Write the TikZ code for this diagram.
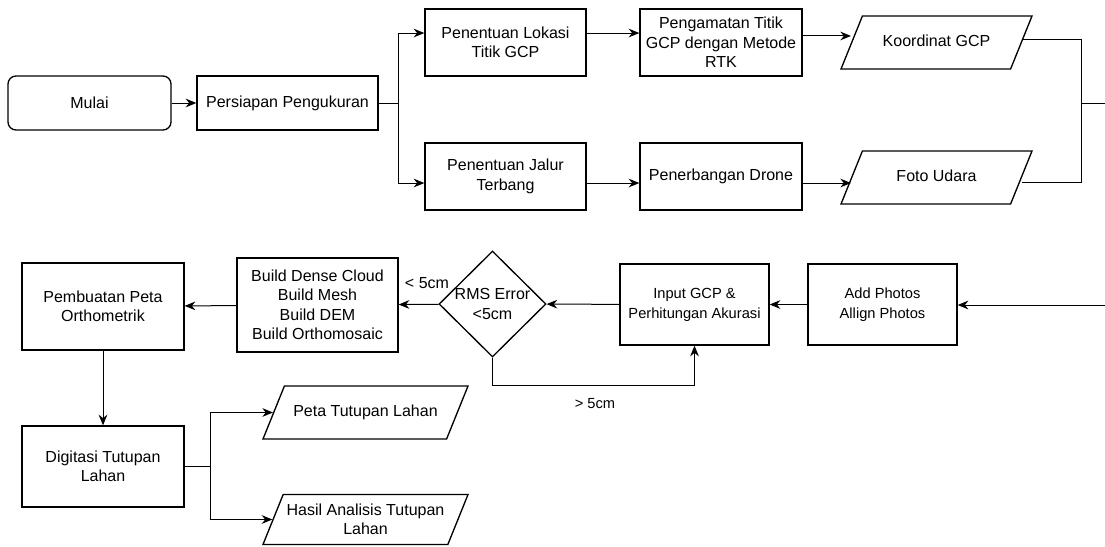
\documentclass[tikz,border=0pt]{standalone}
\usepackage{fontspec}
\setmainfont{Liberation Sans}
\usetikzlibrary{shapes.geometric,arrows.meta}

\begin{document}
\begin{tikzpicture}[x=0.75pt,y=-0.75pt]
    \tikzstyle{every node}+=[inner sep=0pt, font=\fontsize{12}{14.6}\selectfont, align=center]
    \tikzstyle{proses}=[draw, line width=1pt]
    \tikzstyle{datadasar}=[draw, line width=1pt, trapezium, trapezium left angle=68, trapezium right angle=112, trapezium stretches body=true, inner xsep=0pt, minimum width=143.25pt]
    \tikzstyle{data}=[datadasar, inner ysep=14.375pt, text height=8.6pt, text depth=2.4pt]
    \tikzstyle{panah}=[line width=0.75pt, -{Stealth[length=8pt,width=6.5pt]}]
    \tikzstyle{garis}=[line width=0.75pt]
    \useasboundingbox (0,0) rectangle (1105,546);
    % baris atas
    \node [proses, rounded corners=6pt, minimum width=122.25pt, minimum height=40.5pt] (mulai) at (89.5,103) {Mulai};
    \node [proses, minimum width=135.75pt, minimum height=40.5pt] (persiapan) at (287.5,103) {Persiapan Pengukuran};
    \node [proses, minimum width=120.75pt, minimum height=50.25pt] (lokasi) at (505.5,42.5) {Penentuan Lokasi\\Titik GCP};
    \node [proses, minimum width=121.5pt, minimum height=50.25pt] (pengamatan) at (721,42.5) {Pengamatan Titik\\GCP dengan Metode\\RTK};
    \node [proses, minimum width=120.75pt, minimum height=50.25pt] (jalur) at (505.5,176.5) {Penentuan Jalur\\Terbang};
    \node [proses, minimum width=121.5pt, minimum height=50.25pt] (drone) at (721,176.5) {Penerbangan Drone};
    \node [data] (koordinat) at (936.5,42.5) {Koordinat GCP};
    \node [data] (foto) at (936.5,177.5) {Foto Udara};
    % baris tengah
    \node [proses, minimum width=111.75pt, minimum height=60.75pt, font=\fontsize{11}{15}\selectfont] (addphotos) at (882.5,304.5) {Add Photos\\Allign Photos};
    \node [proses, minimum width=111.75pt, minimum height=60.75pt, font=\fontsize{11}{15}\selectfont] (inputgcp) at (694.5,304.5) {Input GCP \&\\Perhitungan Akurasi};
    \node [draw, line width=1pt, diamond, minimum width=80.25pt, minimum height=79.5pt, label={[align=center]center:RMS Error\\<5cm}] (rms) at (492.5,304) {};
    \node [proses, minimum width=120.75pt, minimum height=70.5pt] (build) at (317.5,305) {Build Dense Cloud\\Build Mesh\\Build DEM\\Build Orthomosaic};
    \node [proses, minimum width=121.5pt, minimum height=65.25pt] (pembuatan) at (103,306.5) {Pembuatan Peta\\Orthometrik};
    % baris bawah
    \node [proses, minimum width=121.5pt, minimum height=60.75pt] (digitasi) at (103,466.5) {Digitasi Tutupan\\Lahan};
    \node [data, minimum width=153.75pt] (peta) at (365.5,412.5) {Peta Tutupan Lahan};
    \node [datadasar, inner ysep=7pt, minimum width=153.75pt] (hasil) at (365.5,519.5) {Hasil Analisis Tutupan\\Lahan};
    \node (kurang) at (427,283) {< 5cm};
    \node [font=\fontsize{11}{13}\selectfont] (lebih) at (595,404) {> 5cm};
    % garis atas
    \coordinate (cabang1) at (398,103);
    \coordinate (gabung) at (1081,103);
    \coordinate (keluar) at (1105,103);
    \draw [panah] (mulai) -- (persiapan);
    \draw [garis] (persiapan) -- (cabang1);
    \draw [panah] (cabang1) |- ([yshift=7.1pt]lokasi.west);
    \draw [panah] (cabang1) |- ([yshift=-4.9pt]jalur.west);
    \draw [panah] ([yshift=7.1pt]lokasi.east) -- ([yshift=7.1pt]pengamatan.west);
    \draw [panah] ([yshift=4.9pt]pengamatan.east) coordinate (p1) -- (p1 -| koordinat.west);
    \draw [panah] ([yshift=-4.9pt]jalur.east) -- ([yshift=-4.9pt]drone.west);
    \draw [panah] ([yshift=-4.9pt]drone.east) coordinate (p2) -- (p2 -| foto.west);
    \draw [garis] ([yshift=2.6pt]koordinat.east) -| (gabung);
    \draw [garis] ([yshift=-4.1pt]foto.east) -| (gabung);
    \draw [garis] (gabung) -- (keluar);
    % garis tengah
    \coordinate (masuk) at (1105,305);
    \draw [panah] (masuk) -- (addphotos.east |- masuk);
    \draw [panah] (addphotos) -- (inputgcp);
    \draw [panah] (inputgcp) -- (rms);
    \draw [panah] (rms) -- (build);
    \draw [panah] (build) -- (pembuatan);
    \draw [panah] (rms.south) -- ++(0,28) -| (inputgcp.south);
    % garis bawah
    \coordinate (cabang2) at (210,466.5);
    \draw [panah] (pembuatan) -- (digitasi);
    \draw [garis] (digitasi) -- (cabang2);
    \draw [panah] (cabang2) |- (peta.west);
    \draw [panah] (cabang2) |- (hasil.west);
\end{tikzpicture}
\end{document}
